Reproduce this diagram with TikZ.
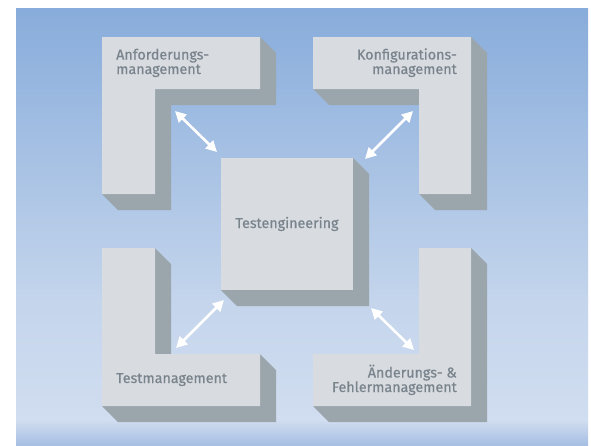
\documentclass[tikz,border=0pt]{standalone}
\usepackage{fontspec}
\setmainfont{Fira Sans}
\newfontfamily\labelfont[FakeBold=0.7]{Fira Sans}
\usetikzlibrary{arrows.meta}

\definecolor{bgtop}{HTML}{88ACDB}
\definecolor{bgmid}{HTML}{C4D5EC}
\definecolor{bglow}{HTML}{D1DDF0}
\definecolor{bgbot}{HTML}{A6BFE3}
\definecolor{face}{HTML}{D8DCE1}
\definecolor{side}{HTML}{9AA6AC}
\definecolor{label}{HTML}{7A848C}

\tikzset{
  facefill/.style={fill=face, draw=none},
  sidefill/.style={fill=side, draw=none},
  blocklabel/.style={text=label, font=\labelfont\fontsize{14.3}{14.5}\selectfont, inner sep=0pt},
  link/.style={draw=white, line width=2.6pt,
    {Triangle[length=11pt,width=11pt]}-{Triangle[length=11pt,width=11pt]}}
}

\begin{document}
\begin{tikzpicture}[x=1pt,y=-1pt]
  \useasboundingbox (0,0) rectangle (591,445);
  \fill[white] (0,0) rectangle (591,445);

  % backdrop gradient
  \shade[top color=bgtop, bottom color=bgmid, draw=none] (16,8) rectangle (588,300.5);
  \shade[top color=bgmid, bottom color=bglow, draw=none] (16,300) rectangle (588,420.5);
  \shade[top color=bglow, bottom color=bgbot, draw=none] (16,420) rectangle (588,445);

  % Anforderungsmanagement block
  \fill[sidefill] (102,37) -- (260,37) -- (276,53) -- (276,105) -- (171,105) -- (171,210) -- (118,210) -- (102,194) -- cycle;
  \fill[facefill] (102,37) -- (260,37) -- (260,89) -- (155,89) -- (155,194) -- (102,194) -- cycle;

  % Konfigurationsmanagement block
  \fill[sidefill] (313,37) -- (471,37) -- (487,53) -- (487,210) -- (435,210) -- (419,194) -- (419,105) -- (329,105) -- (313,89) -- cycle;
  \fill[facefill] (313,37) -- (471,37) -- (471,194) -- (419,194) -- (419,89) -- (313,89) -- cycle;

  % Testmanagement block
  \fill[sidefill] (102,248) -- (155,248) -- (171,264) -- (171,354) -- (260,354) -- (276,370) -- (276,422) -- (118,422) -- (102,406) -- cycle;
  \fill[facefill] (102,248) -- (155,248) -- (155,354) -- (260,354) -- (260,406) -- (102,406) -- cycle;

  % Aenderungs- und Fehlermanagement block
  \fill[sidefill] (419,248) -- (471,248) -- (487,264) -- (487,422) -- (329,422) -- (313,406) -- (313,354) -- (419,354) -- cycle;
  \fill[facefill] (419,248) -- (471,248) -- (471,406) -- (313,406) -- (313,354) -- (419,354) -- cycle;

  % Testengineering block
  \fill[sidefill] (221,158) -- (353,158) -- (369,174) -- (369,306) -- (237,306) -- (221,290) -- cycle;
  \fill[facefill] (221,158) rectangle (353,290);

  % labels (base anchor of a two-line node sits on its last line)
  \node[blocklabel, anchor=base west, align=left] (anf) at (116,74)
    {Anforderungs-\\management};
  \node[blocklabel, anchor=base east, align=right] (konf) at (457,74)
    {Konfigurations-\\management};
  \node[blocklabel, anchor=base west] (tm) at (116,383) {Testmanagement};
  \node[blocklabel, anchor=base east, align=right] (aend) at (457,392)
    {Änderungs- \&\\Fehlermanagement};
  \node[blocklabel, anchor=base] (te) at (287,228) {Testengineering};

  % arrow end points
  \coordinate (anfEnd) at (175,111);
  \coordinate (teNW)   at (217,152);
  \coordinate (konfEnd) at (413,111);
  \coordinate (teNE)   at (365,159);
  \coordinate (tmEnd)  at (176,348);
  \coordinate (teSW)   at (224,300);
  \coordinate (aendEnd) at (414,350);
  \coordinate (teSE)   at (371,308);

  % connections
  \draw[link] (anfEnd) -- (teNW);
  \draw[link] (konfEnd) -- (teNE);
  \draw[link] (tmEnd) -- (teSW);
  \draw[link] (aendEnd) -- (teSE);
\end{tikzpicture}
\end{document}
